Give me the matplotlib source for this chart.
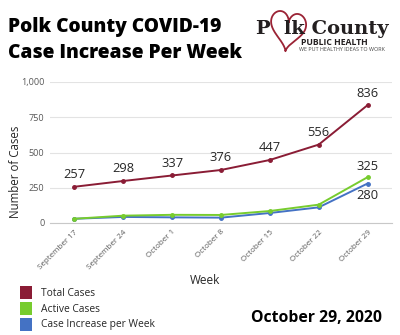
import numpy as np
import matplotlib.pyplot as plt
from matplotlib.patches import Rectangle

weeks = ["September 17", "September 24", "October 1", "October 8",
         "October 15", "October 22", "October 29"]
total_cases = [257, 298, 337, 376, 447, 556, 836]
active_cases = [30, 52, 58, 57, 85, 130, 325]
weekly_increase = [30, 43, 40, 38, 71, 111, 280]
y_ticks = [0, 250, 500, 750, 1000]
y_tick_labels = ["0", "250", "500", "750", "1,000"]

RED = "#8a1c35"
GREEN = "#77cc2e"
BLUE = "#4472c4"
GRAY = "#595959"
TEXT = "#262626"

plt.rcParams['font.family'] = ['Open Sans', 'DejaVu Sans']

fig = plt.figure(figsize=(4.0, 3.35), dpi=100)
W, H = 400, 335


def fx(px):
    return px / W


def fy(py):
    return 1 - py / H


ax = fig.add_axes([fx(50), fy(223), fx(392) - fx(50), fy(82) - fy(223)])
x = np.arange(len(weeks))
ax.plot(x, weekly_increase, color=BLUE, lw=1.4, marker='o', ms=2.5, zorder=3)
ax.plot(x, active_cases, color=GREEN, lw=1.4, marker='o', ms=2.5, zorder=4)
ax.plot(x, total_cases, color=RED, lw=1.4, marker='o', ms=2.5, zorder=5)

for xi, v in zip(x, total_cases):
    ax.annotate(str(v), (xi, v), xytext=(0, 4), textcoords='offset points',
                ha='center', va='bottom', fontsize=9.3, color=TEXT)
ax.annotate(str(active_cases[-1]), (x[-1], active_cases[-1]), xytext=(0, 3),
            textcoords='offset points', ha='center', va='bottom',
            fontsize=9.3, color=TEXT)
ax.annotate(str(weekly_increase[-1]), (x[-1], weekly_increase[-1]), xytext=(0, -4),
            textcoords='offset points', ha='center', va='top',
            fontsize=9.3, color=TEXT)

ax.set_xlim(-0.5, len(weeks) - 0.5)
ax.set_ylim(0, 1000)
ax.set_yticks(y_ticks)
ax.set_yticklabels(y_tick_labels, fontsize=6.6, color=GRAY)
ax.set_xticks(x)
ax.set_xticklabels(weeks, rotation=45, ha='right', rotation_mode='anchor',
                   fontsize=5.8, color=GRAY)
ax.tick_params(axis='both', length=0, pad=4)
ax.grid(axis='y', color='#e3e3e3', lw=0.8)
ax.set_axisbelow(True)
for s in ['top', 'right', 'left']:
    ax.spines[s].set_visible(False)
ax.spines['bottom'].set_color('#c8c8c8')
fig.text(fx(16), fy(172), "Number of Cases", rotation=90, ha='center',
         va='center', fontsize=8.3, color=TEXT)
fig.text(fx(205), fy(281), "Week", ha='center', va='center', fontsize=8.5, color=TEXT)

# Title
fig.text(fx(8), fy(27), "Polk County COVID-19", fontsize=13.8, fontweight='heavy',
         ha='left', va='center', color='black')
fig.text(fx(8), fy(53), "Case Increase Per Week", fontsize=13.8, fontweight='heavy',
         ha='left', va='center', color='black')

# Logo: wordmark with a heart in place of the "o"
t = np.linspace(0, 2 * np.pi, 300)
hx = 16 * np.sin(t) ** 3
hy = 13 * np.cos(t) - 5 * np.cos(2 * t) - 2 * np.cos(3 * t) - np.cos(4 * t)
ang = np.deg2rad(-8)
rx = hx * np.cos(ang) - hy * np.sin(ang)
ry = hx * np.sin(ang) + hy * np.cos(ang)
hpx = 288 + rx * 1.1
hpy = 28.5 - ry * 1.35
fig.add_artist(plt.Line2D(fx(hpx), fy(hpy), color='#9b2335', lw=1.3,
                          transform=fig.transFigure, zorder=1))
fig.text(fx(255), fy(33.5), "P", fontsize=14, fontweight='bold',
         family='DejaVu Serif', ha='left', va='baseline', color='#231f20', zorder=2)
fig.text(fx(284), fy(33.5), "lk County", fontsize=14, fontweight='bold',
         family='DejaVu Serif', ha='left', va='baseline', color='#231f20', zorder=2)
fig.text(fx(334), fy(42.5), "PUBLIC HEALTH", fontsize=6.2, fontweight='bold',
         ha='center', va='center', color='#231f20')
fig.text(fx(342), fy(49.5), "WE PUT HEALTHY IDEAS TO WORK", fontsize=3.9,
         ha='center', va='center', color='#444444')

# Legend
legend_items = [("Total Cases", RED), ("Active Cases", GREEN),
                ("Case Increase per Week", BLUE)]
for i, (label, col) in enumerate(legend_items):
    top = 286 + i * 16
    fig.add_artist(Rectangle((fx(20), fy(top + 13)), fx(12), fy(0) - fy(13),
                             transform=fig.transFigure, facecolor=col,
                             edgecolor='none'))
    fig.text(fx(41), fy(top + 7), label, fontsize=7.4, ha='left', va='center',
             color=TEXT)

fig.text(fx(382), fy(318), "October 29, 2020", fontsize=11.3, fontweight='bold',
         ha='right', va='center', color='black')

fig.savefig("out.png", dpi=100, facecolor='white')
